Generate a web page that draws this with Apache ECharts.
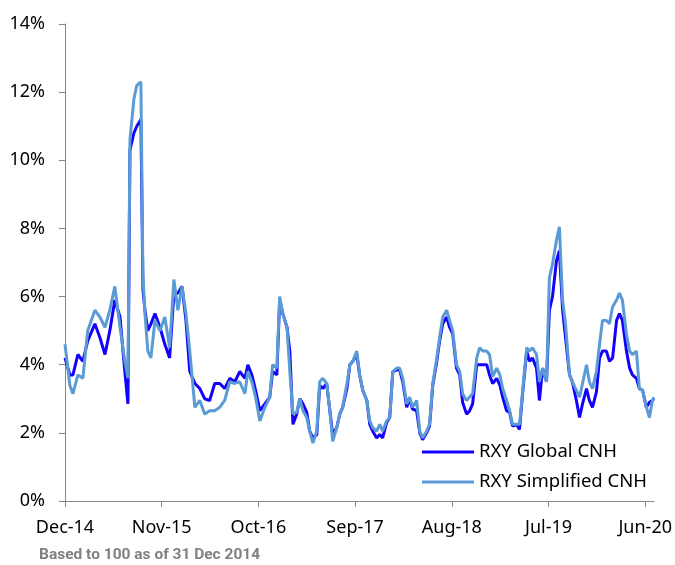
<!DOCTYPE html>
<html>
<head>
<meta charset="utf-8">
<script src="https://cdn.jsdelivr.net/npm/echarts@6/dist/echarts.min.js"></script>
<style>
  html, body { margin: 0; padding: 0; background: #fff; }
  #chart { width: 675px; height: 565px; }
</style>
</head>
<body>
<div id="chart"></div>
<script>
// observation dates (base 31 Dec 2014)
const dates = [
  '2014-12-31','2015-01-17','2015-01-28','2015-02-13','2015-03-01','2015-03-18','2015-04-12','2015-04-29',
  '2015-05-17','2015-06-03','2015-06-20','2015-07-08','2015-07-25','2015-08-05','2015-08-12','2015-08-26',
  '2015-09-05','2015-09-19','2015-09-26','2015-10-03','2015-10-13','2015-10-24','2015-11-07','2015-11-24',
  '2015-12-11','2015-12-28','2016-01-12','2016-01-26','2016-02-09','2016-02-22','2016-03-06','2016-03-24',
  '2016-04-10','2016-04-27','2016-05-14','2016-06-01','2016-06-18','2016-07-05','2016-07-23','2016-08-10',
  '2016-08-27','2016-09-14','2016-09-24','2016-10-08','2016-10-21','2016-11-05','2016-11-22','2016-12-09',
  '2016-12-19','2017-01-03','2017-01-13','2017-01-24','2017-02-07','2017-02-16','2017-02-26','2017-03-11',
  '2017-03-22','2017-04-02','2017-04-15','2017-04-25','2017-05-06','2017-05-20','2017-05-30','2017-06-10',
  '2017-06-23','2017-07-04','2017-07-14','2017-07-28','2017-08-08','2017-08-18','2017-09-02','2017-09-12',
  '2017-09-22','2017-10-06','2017-10-16','2017-10-27','2017-11-10','2017-11-20','2017-11-30','2017-12-14',
  '2017-12-25','2018-01-04','2018-01-18','2018-01-29','2018-02-08','2018-02-21','2018-03-02','2018-03-13',
  '2018-03-27','2018-04-06','2018-04-16','2018-04-30','2018-05-11','2018-05-21','2018-06-04','2018-06-14',
  '2018-06-25','2018-07-09','2018-07-19','2018-07-30','2018-08-13','2018-08-23','2018-09-03','2018-09-16',
  '2018-09-27','2018-10-07','2018-10-21','2018-11-01','2018-11-11','2018-11-25','2018-12-05','2018-12-16',
  '2018-12-30','2019-01-09','2019-01-20','2019-02-03','2019-02-13','2019-02-22','2019-03-07','2019-03-18',
  '2019-03-28','2019-04-11','2019-04-21','2019-05-01','2019-05-16','2019-05-26','2019-06-05','2019-06-19',
  '2019-06-29','2019-07-10','2019-07-24','2019-08-03','2019-08-14','2019-08-28','2019-09-07','2019-09-18',
  '2019-09-28','2019-10-12','2019-10-22','2019-11-05','2019-11-16','2019-11-26','2019-12-10','2019-12-20',
  '2019-12-31','2020-01-14','2020-01-25','2020-02-04','2020-02-17','2020-02-27','2020-03-09','2020-03-23',
  '2020-04-02','2020-04-12','2020-04-26','2020-05-07','2020-05-17','2020-05-31','2020-06-10','2020-06-21',
  '2020-07-04','2020-07-15','2020-07-25','2020-07-31'
];

// RXY Global CNH (%)
const globalCnh = [
  4.2, 3.7, 3.7, 4.3, 4.1, 4.7, 5.2, 4.8,
  4.3, 5.0, 5.9, 5.4, 3.8, 2.85, 10.3, 10.8,
  11.0, 11.2, 6.2, 5.6, 5.0, 5.2, 5.5, 5.1,
  4.6, 4.2, 6.1, 6.1, 6.3, 5.3, 3.8, 3.45,
  3.3, 3.0, 2.95, 3.45, 3.45, 3.3, 3.6, 3.5,
  3.8, 3.6, 4.0, 3.7, 3.25, 2.65, 2.85, 3.05,
  3.8, 3.7, 5.9, 5.5, 5.1, 4.4, 2.25, 2.55,
  3.0, 2.85, 2.6, 2.05, 1.85, 1.95, 3.4, 3.3,
  3.45, 2.65, 1.95, 2.15, 2.55, 2.75, 3.3, 4.0,
  4.1, 4.3, 3.7, 3.25, 2.95, 2.25, 2.05, 1.85,
  1.95, 1.85, 2.3, 2.45, 3.8, 3.85, 3.85, 3.5,
  2.75, 3.0, 2.7, 2.65, 2.0, 1.8, 2.0, 2.2,
  3.4, 4.1, 4.7, 5.2, 5.4, 5.1, 4.9, 3.9,
  3.7, 2.9, 2.55, 2.65, 2.85, 4.0, 4.0, 4.0,
  4.0, 3.7, 3.45, 3.6, 3.4, 3.05, 2.65, 2.6,
  2.2, 2.25, 2.1, 3.1, 4.4, 4.1, 4.2, 3.9,
  2.95, 3.9, 3.5, 5.6, 6.0, 7.05, 7.35, 5.6,
  4.8, 3.7, 3.5, 2.95, 2.45, 2.85, 3.3, 2.95,
  2.75, 3.2, 4.2, 4.4, 4.4, 4.1, 4.2, 5.3,
  5.5, 5.3, 4.4, 3.9, 3.7, 3.6, 3.3, 3.25,
  2.75, 2.9, 2.95, 3.0
];

// RXY Simplified CNH (%)
const simplifiedCnh = [
  4.6, 3.4, 3.15, 3.7, 3.6, 5.0, 5.6, 5.4,
  5.1, 5.6, 6.3, 5.1, 4.1, 3.6, 10.6, 11.8,
  12.2, 12.3, 6.6, 5.5, 4.4, 4.2, 5.3, 5.0,
  5.4, 4.5, 6.5, 5.6, 6.3, 5.5, 4.4, 2.75,
  2.95, 2.55, 2.65, 2.65, 2.75, 2.95, 3.5, 3.45,
  3.5, 3.15, 3.8, 3.5, 3.05, 2.35, 2.75, 3.05,
  4.0, 3.9, 6.0, 5.5, 5.1, 3.8, 2.55, 2.6,
  3.0, 2.65, 2.45, 2.05, 1.7, 2.05, 3.5, 3.6,
  3.45, 2.65, 1.75, 2.15, 2.55, 2.75, 3.45, 4.0,
  4.1, 4.4, 3.7, 3.25, 2.95, 2.35, 2.15, 2.05,
  2.25, 2.05, 2.35, 2.45, 3.8, 3.9, 3.9, 3.6,
  2.85, 3.05, 2.75, 2.95, 2.05, 1.85, 2.05, 2.25,
  3.45, 4.2, 4.8, 5.4, 5.6, 5.3, 5.0, 4.0,
  3.8, 3.15, 2.95, 3.05, 3.15, 4.2, 4.5, 4.4,
  4.4, 4.3, 3.65, 3.9, 3.7, 3.3, 2.95, 2.65,
  2.25, 2.25, 2.25, 3.15, 4.5, 4.4, 4.5, 4.3,
  3.5, 3.9, 3.5, 6.55, 6.95, 7.65, 8.05, 5.9,
  5.2, 3.7, 3.5, 3.25, 3.05, 3.45, 4.0, 3.5,
  3.3, 3.8, 4.6, 5.3, 5.3, 5.2, 5.7, 5.9,
  6.1, 5.9, 4.9, 4.4, 4.3, 4.4, 3.3, 3.25,
  2.75, 2.45, 2.95, 3.05
];

const xTicks = [0, 11, 22, 33, 44, 55, 66];
const monthNames = ['Jan','Feb','Mar','Apr','May','Jun','Jul','Aug','Sep','Oct','Nov','Dec'];

// months elapsed since 31 Dec 2014
function toMonths(s) {
  const [y, mo, d] = s.split('-').map(Number);
  const days = new Date(Date.UTC(y, mo, 0)).getUTCDate();
  return (y - 2015) * 12 + (mo - 1) + d / days;
}

function monthLabel(m) {
  const total = 11 + Math.round(m);
  const yr = 2014 + Math.floor(total / 12);
  return monthNames[total % 12] + '-' + String(yr).slice(2);
}

const chart = echarts.init(document.getElementById('chart'));
const font = 'Noto Sans';

chart.setOption({
  animation: false,
  grid: { left: 65, right: 20, top: 24, bottom: 64 },
  legend: {
    orient: 'vertical',
    left: 417,
    top: 436,
    icon: 'rect',
    itemWidth: 52,
    itemHeight: 3,
    itemGap: 8,
    textStyle: { fontFamily: font, fontSize: 18.5, color: '#000', lineHeight: 22 },
    data: ['RXY Global CNH', 'RXY Simplified CNH']
  },
  xAxis: {
    type: 'value',
    min: 0,
    max: 67,
    interval: 11,
    splitLine: { show: false },
    axisLine: { lineStyle: { color: '#868686', width: 1 } },
    axisTick: { show: true, length: 6, customValues: xTicks, lineStyle: { color: '#868686' } },
    axisLabel: {
      customValues: xTicks,
      formatter: monthLabel,
      margin: 18,
      fontFamily: font,
      fontSize: 18,
      color: '#000'
    }
  },
  yAxis: {
    type: 'value',
    min: 0,
    max: 14,
    interval: 2,
    splitLine: { show: false },
    axisLine: { show: true, lineStyle: { color: '#868686', width: 1 } },
    axisTick: { show: true, length: 6, lineStyle: { color: '#868686' } },
    axisLabel: {
      formatter: '{value}%',
      margin: 20,
      fontFamily: font,
      fontSize: 18,
      color: '#000'
    }
  },
  graphic: [{
    type: 'text',
    left: 39,
    top: 547,
    style: {
      text: 'Based to 100 as of 31 Dec 2014',
      fontFamily: 'Roboto',
      fontWeight: 'bold',
      fontSize: 15.5,
      fill: '#808080'
    }
  }],
  series: [
    {
      name: 'RXY Global CNH',
      type: 'line',
      showSymbol: false,
      data: dates.map((d, i) => [toMonths(d), globalCnh[i]]),
      lineStyle: { width: 3, color: '#1400ff' },
      itemStyle: { color: '#1400ff' }
    },
    {
      name: 'RXY Simplified CNH',
      type: 'line',
      showSymbol: false,
      data: dates.map((d, i) => [toMonths(d), simplifiedCnh[i]]),
      lineStyle: { width: 3, color: '#5b9bd5' },
      itemStyle: { color: '#5b9bd5' }
    }
  ]
});
</script>
</body>
</html>
